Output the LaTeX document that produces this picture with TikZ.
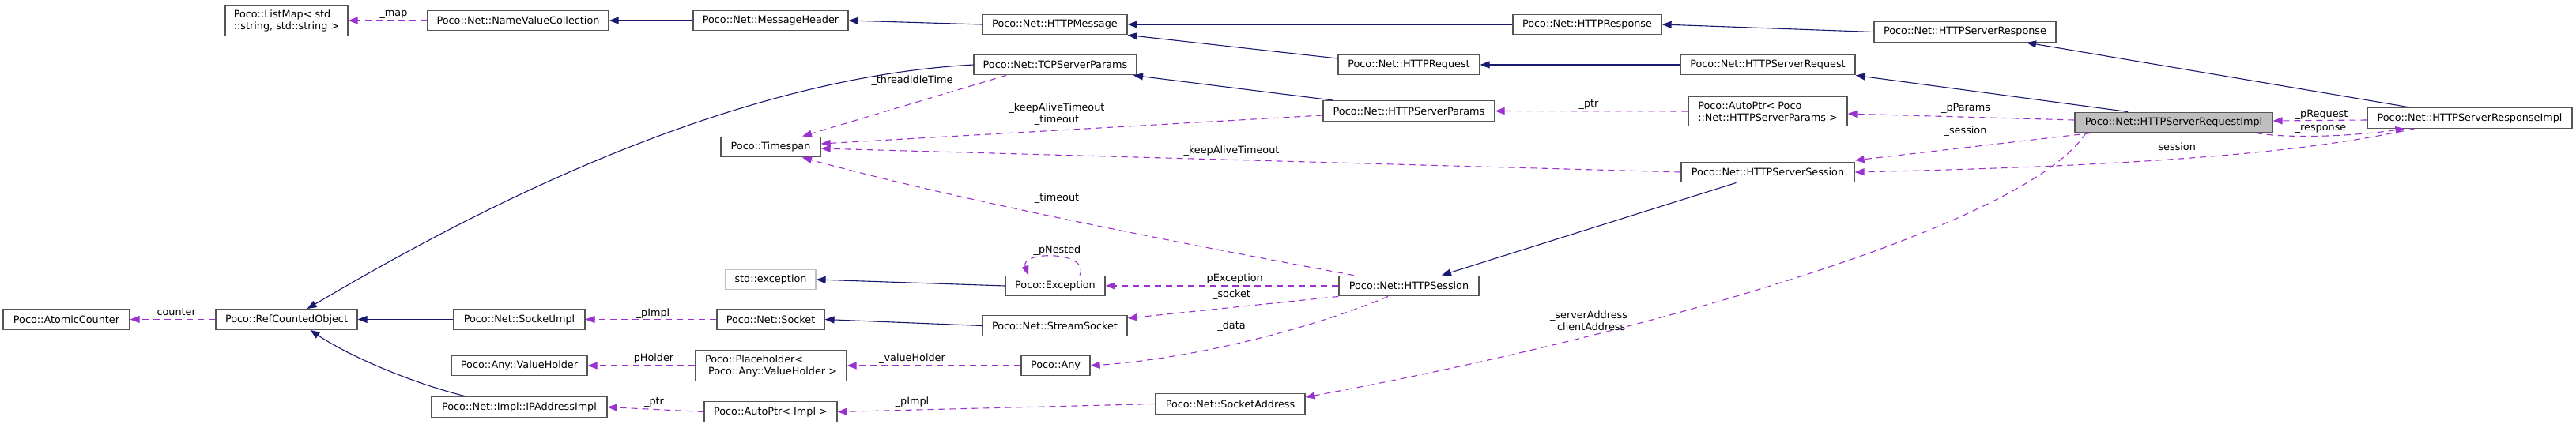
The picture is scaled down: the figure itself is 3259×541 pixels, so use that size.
\documentclass[tikz,border=0pt]{standalone}
\usepackage{fontspec}
\setmainfont{DejaVu Sans}
\usetikzlibrary{arrows.meta}
\definecolor{dxNavy}{HTML}{191970}
\definecolor{dxOrchid}{HTML}{9A32CD}
\definecolor{dxBorder}{HTML}{555555}
\definecolor{dxFocus}{HTML}{BFBFBF}
\definecolor{dxExtern}{HTML}{BFBFBF}

\begin{document}
\begin{tikzpicture}[x=1pt,y=-1pt,font=\fontsize{12.8}{15}\selectfont,
  cls/.style={draw=dxBorder,fill=white,line width=1.2pt,minimum height=25.7pt,inner xsep=4pt,inner ysep=6pt,align=left},
  inh/.style={dxNavy,line width=1.1pt,-{Triangle[length=12pt,width=9pt]}},
  coll/.style={dxOrchid,line width=1.1pt,dash pattern=on 8pt off 6pt,-{Triangle[length=12pt,width=9pt]}},
  lbl/.style={inner sep=1pt,align=center}]
  \useasboundingbox (0,0) rectangle (3259,541);
  % classes, upper band
  \node[cls,minimum width=155pt] (listMap) at (362.5,26) {Poco::ListMap< std\\::string, std::string >};
  \node[cls,minimum width=229pt] (nameValue) at (655.5,26) {Poco::Net::NameValueCollection};
  \node[cls,minimum width=196pt] (msgHeader) at (975,26) {Poco::Net::MessageHeader};
  \node[cls,minimum width=183pt] (httpMsg) at (1334.5,31) {Poco::Net::HTTPMessage};
  \node[cls,minimum width=188pt] (httpResp) at (2008,31) {Poco::Net::HTTPResponse};
  \node[cls,minimum width=230pt] (srvResp) at (2486,40.5) {Poco::Net::HTTPServerResponse};
  \node[cls,minimum width=206pt] (tcpParams) at (1335,82) {Poco::Net::TCPServerParams};
  \node[cls,minimum width=179pt] (httpReq) at (1782.5,82) {Poco::Net::HTTPRequest};
  \node[cls,minimum width=221pt] (srvReq) at (2236.5,82) {Poco::Net::HTTPServerRequest};
  \node[cls,minimum width=217pt] (srvParams) at (1782.5,140.5) {Poco::Net::HTTPServerParams};
  \node[cls,minimum width=201pt] (paramsPtr) at (2236.5,141) {Poco::AutoPtr< Poco\\::Net::HTTPServerParams >};
  \node[cls,fill=dxFocus,minimum width=250pt] (reqImpl) at (2750,155) {Poco::Net::HTTPServerRequestImpl};
  \node[cls,minimum width=259pt] (respImpl) at (3124.5,149.5) {Poco::Net::HTTPServerResponseImpl};
  \node[cls,minimum width=126pt] (timespan) at (975,186) {Poco::Timespan};
  \node[cls,minimum width=219pt] (srvSession) at (2236.5,218) {Poco::Net::HTTPServerSession};
  % classes, lower band
  \node[cls,draw=dxExtern,minimum width=114pt] (stdExc) at (975,354) {std::exception};
  \node[cls,minimum width=126pt] (pocoExc) at (1335,362) {Poco::Exception};
  \node[cls,minimum width=177pt] (httpSession) at (1782.5,362) {Poco::Net::HTTPSession};
  \node[cls,minimum width=160pt] (atomic) at (84,404.5) {Poco::AtomicCounter};
  \node[cls,minimum width=179pt] (refCounted) at (362.5,404.5) {Poco::RefCountedObject};
  \node[cls,minimum width=166pt] (sockImpl) at (657,404.5) {Poco::Net::SocketImpl};
  \node[cls,minimum width=136pt] (socket) at (975,404.5) {Poco::Net::Socket};
  \node[cls,minimum width=183pt] (streamSock) at (1334.5,412.5) {Poco::Net::StreamSocket};
  \node[cls,minimum width=172pt] (valHolder) at (657,463) {Poco::Any::ValueHolder};
  \node[cls,minimum width=191pt] (placeHolder) at (975.5,463) {Poco::Placeholder<\\\hspace{4pt}Poco::Any::ValueHolder >};
  \node[cls,minimum width=87pt] (pocoAny) at (1335.5,463) {Poco::Any};
  \node[cls,minimum width=222pt] (ipAddr) at (657,515.5) {Poco::Net::Impl::IPAddressImpl};
  \node[cls,minimum width=168pt] (implPtr) at (975,521.5) {Poco::AutoPtr< Impl >};
  \node[cls,minimum width=189pt] (sockAddr) at (1556.5,511.5) {Poco::Net::SocketAddress};
  % inheritance
  \draw[inh] (msgHeader.west) -- (nameValue.east);
  \draw[inh] (httpMsg.west) -- (msgHeader.east);
  \draw[inh] (httpResp.west) -- (httpMsg.east);
  \draw[inh] ([yshift=8pt]httpReq.west) -- (httpMsg.south east);
  \draw[inh] (srvResp.west) -- (httpResp.east);
  \draw[inh] (srvReq.west) -- (httpReq.east);
  \draw[inh] ([xshift=-75pt]respImpl.north) -- ([xshift=78pt]srvResp.south);
  \draw[inh] ([xshift=-58pt]reqImpl.north) -- (srvReq.south east);
  \draw[inh] ([xshift=-96pt]srvParams.north) -- ([xshift=99pt]tcpParams.south);
  \draw[inh] (tcpParams.west) .. controls (900,100) and (560,290) .. ([xshift=26pt]refCounted.north);
  \draw[inh] (sockImpl.west) -- (refCounted.east);
  \draw[inh] ([xshift=-67pt]ipAddr.north) .. controls (520,485) and (440,450) .. ([xshift=30pt]refCounted.south);
  \draw[inh] (pocoExc.west) -- (stdExc.east);
  \draw[inh] (streamSock.west) -- (socket.east);
  \draw[inh] ([xshift=-40pt]srvSession.south) -- ([xshift=41.5pt]httpSession.north);
  % members
  \draw[coll] (nameValue.west) -- (listMap.east);
  \draw[coll] (refCounted.west) -- (atomic.east);
  \draw[coll] (socket.west) -- (sockImpl.east);
  \draw[coll] (placeHolder.west) -- (valHolder.east);
  \draw[coll] (pocoAny.west) -- (placeHolder.east);
  \draw[coll] (implPtr.west) -- (ipAddr.east);
  \draw[coll] (sockAddr.west) -- (implPtr.east);
  \draw[coll] ([xshift=31pt]pocoExc.north) .. controls +(14,-31) and +(-11,-31) .. ([xshift=-34pt]pocoExc.north);
  \draw[coll] (httpSession.west) -- (pocoExc.east);
  \draw[coll] (httpSession.south west) -- ([yshift=9.5pt]streamSock.east);
  \draw[coll] ([xshift=-26.5pt]httpSession.south) .. controls (1650,420) and (1500,455) .. (pocoAny.east);
  \draw[coll] ([xshift=-62pt]tcpParams.south) -- ([xshift=40pt]timespan.north);
  \draw[coll] ([yshift=-5.5pt]srvParams.west) -- ([yshift=4pt]timespan.east);
  \draw[coll] (srvSession.west) -- ([yshift=-2pt]timespan.east);
  \draw[coll] ([xshift=-70pt]httpSession.north) .. controls (1450,300) and (1200,250) .. ([xshift=40pt]timespan.south);
  \draw[coll] (paramsPtr.west) -- (srvParams.east);
  \draw[coll] ([yshift=3pt]reqImpl.west) -- ([yshift=-3pt]paramsPtr.east);
  \draw[coll] ([xshift=-104pt]reqImpl.south) -- ([yshift=15pt]srvSession.east);
  \draw[coll] ([xshift=-70pt]respImpl.south) .. controls (2950,185) and (2800,208) .. (srvSession.east);
  \draw[coll] ([xshift=104pt]reqImpl.south) .. controls (2900,176) and (2980,172) .. ([xshift=-82pt]respImpl.south);
  \draw[coll] ([yshift=-2.5pt]respImpl.west) -- ([yshift=2pt]reqImpl.east);
  \draw[coll] ([xshift=-111pt]reqImpl.south) .. controls (2560,290) and (2050,430) .. ([yshift=8.5pt]sockAddr.east);
  % member labels
  \node[lbl] (lMap) at (498,18) {\_map};
  \node[lbl] (lCounter) at (220,397) {\_counter};
  \node[lbl] (lSockImpl) at (826,397) {\_pImpl};
  \node[lbl] (lHolder) at (827,454) {pHolder};
  \node[lbl] (lValue) at (1154,454) {\_valueHolder};
  \node[lbl] (lIpPtr) at (827.5,510) {\_ptr};
  \node[lbl] (lAddrImpl) at (1154,509) {\_pImpl};
  \node[lbl] (lNested) at (1337.5,317) {\_pNested};
  \node[lbl] (lExc) at (1559,353) {\_pException};
  \node[lbl] (lSocket) at (1558,373) {\_socket};
  \node[lbl] (lData) at (1558,413) {\_data};
  \node[lbl] (lIdle) at (1154,102) {\_threadIdleTime};
  \node[lbl] (lKeepTime) at (1337,145) {\_keepAliveTimeout\\\_timeout};
  \node[lbl] (lKeep) at (1558,191) {\_keepAliveTimeout};
  \node[lbl] (lTimeout) at (1337,251) {\_timeout};
  \node[lbl] (lParamsPtr) at (2010,133) {\_ptr};
  \node[lbl] (lParams) at (2487,137) {\_pParams};
  \node[lbl] (lSessReq) at (2486.5,166) {\_session};
  \node[lbl] (lSessResp) at (2751,187) {\_session};
  \node[lbl] (lRequest) at (2937,145) {\_pRequest};
  \node[lbl] (lResponse) at (2936,163) {\_response};
  \node[lbl] (lAddress) at (2010,407.5) {\_serverAddress\\\_clientAddress};
\end{tikzpicture}
\end{document}
